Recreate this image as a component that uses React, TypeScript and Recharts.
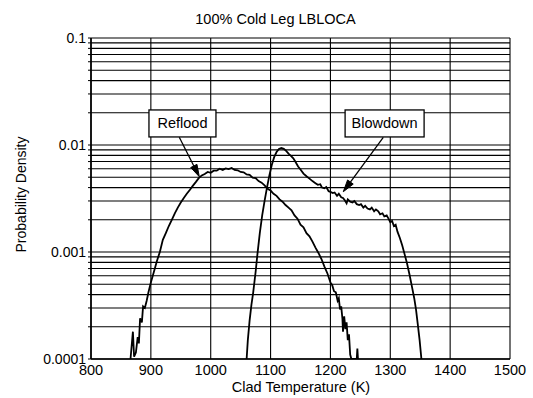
import React from 'react';
import {
  LineChart,
  Line,
  XAxis,
  YAxis,
  CartesianGrid,
  ReferenceDot,
  ReferenceLine,
  Customized,
} from 'recharts';

// ---------- data ----------
const refloodX = [
  866, 870, 872, 875, 878, 880, 882, 885, 887, 890, 893, 896, 900, 905, 910, 915, 920, 925, 930, 935,
  940, 945, 950, 955, 960, 965, 970, 975, 980, 985, 990, 995, 1000, 1005, 1010, 1015, 1020, 1025, 1030,
  1035, 1040, 1045, 1050, 1055, 1060, 1065, 1070, 1075, 1080, 1085, 1090, 1095, 1100, 1105, 1110, 1115,
  1120, 1125, 1130, 1135, 1140, 1145, 1150, 1155, 1160, 1165, 1170, 1175, 1180, 1185, 1190, 1195, 1200,
  1203, 1206, 1209, 1212, 1214, 1216, 1218, 1220, 1221, 1223, 1225, 1227, 1229, 1231, 1233, 1235, 1244,
  1245, 1246,
];
const refloodY = [
  1.0e-4, 1.8e-4, 1.05e-4, 1.15e-4, 1.6e-4, 1.4e-4, 2.4e-4, 2.2e-4, 3.1e-4, 3.0e-4, 3.5e-4, 4.2e-4,
  5.2e-4, 6.5e-4, 8.2e-4, 1.0e-3, 1.3e-3, 1.5e-3, 1.75e-3, 2.0e-3, 2.3e-3, 2.6e-3, 2.9e-3, 3.2e-3,
  3.5e-3, 3.8e-3, 4.15e-3, 4.5e-3, 4.9e-3, 5.2e-3, 5.35e-3, 5.6e-3, 5.5e-3, 5.75e-3, 5.75e-3, 6.0e-3,
  5.85e-3, 6.05e-3, 5.95e-3, 6.1e-3, 5.85e-3, 5.8e-3, 5.6e-3, 5.55e-3, 5.3e-3, 5.25e-3, 4.95e-3, 4.9e-3,
  4.6e-3, 4.45e-3, 4.2e-3, 3.9e-3, 3.75e-3, 3.5e-3, 3.35e-3, 3.1e-3, 2.95e-3, 2.75e-3, 2.6e-3, 2.45e-3,
  2.2e-3, 2.05e-3, 1.8e-3, 1.7e-3, 1.5e-3, 1.4e-3, 1.25e-3, 1.1e-3, 9.8e-4, 8.6e-4, 7.3e-4, 6.3e-4,
  5.2e-4, 4.9e-4, 4.3e-4, 4.2e-4, 3.5e-4, 3.7e-4, 2.9e-4, 3.1e-4, 2.4e-4, 1.8e-4, 2.5e-4, 1.9e-4,
  2.2e-4, 1.5e-4, 1.7e-4, 1.1e-4, 1.0e-4, 1.0e-4, 1.25e-4, 1.0e-4,
];

const blowdownX = [
  1060, 1062, 1065, 1068, 1071, 1075, 1078, 1082, 1086, 1090, 1094, 1098, 1102, 1106, 1110, 1114, 1118,
  1122, 1126, 1130, 1134, 1138, 1142, 1146, 1150, 1155, 1160, 1165, 1170, 1175, 1179, 1183, 1186, 1190,
  1193, 1197, 1200, 1204, 1207, 1211, 1214, 1218, 1221, 1224, 1227, 1229, 1233, 1237, 1240, 1244, 1248,
  1251, 1255, 1258, 1262, 1266, 1269, 1273, 1276, 1280, 1283, 1287, 1290, 1294, 1297, 1300, 1303, 1306,
  1309, 1312, 1316, 1320, 1324, 1328, 1332, 1336, 1340, 1343, 1346, 1349, 1352,
];
const blowdownY = [
  1.0e-4, 1.5e-4, 2.3e-4, 3.2e-4, 4.2e-4, 6.5e-4, 9.5e-4, 1.5e-3, 2.2e-3, 3.0e-3, 4.0e-3, 5.2e-3,
  6.5e-3, 7.7e-3, 8.6e-3, 9.2e-3, 9.4e-3, 9.2e-3, 8.8e-3, 8.3e-3, 7.9e-3, 7.5e-3, 6.9e-3, 6.3e-3,
  5.9e-3, 5.4e-3, 5.1e-3, 4.85e-3, 4.6e-3, 4.4e-3, 4.25e-3, 4.3e-3, 4.0e-3, 3.95e-3, 4.05e-3, 3.7e-3,
  3.65e-3, 3.55e-3, 3.6e-3, 3.35e-3, 3.5e-3, 3.25e-3, 3.2e-3, 3.05e-3, 2.85e-3, 3.1e-3, 2.95e-3,
  2.9e-3, 3.0e-3, 2.8e-3, 2.75e-3, 2.8e-3, 2.6e-3, 2.7e-3, 2.55e-3, 2.5e-3, 2.6e-3, 2.4e-3, 2.5e-3,
  2.4e-3, 2.25e-3, 2.3e-3, 2.15e-3, 2.2e-3, 2.05e-3, 1.9e-3, 1.95e-3, 1.75e-3, 1.8e-3, 1.55e-3,
  1.35e-3, 1.15e-3, 9.5e-4, 7.8e-4, 6.2e-4, 4.8e-4, 3.7e-4, 2.9e-4, 2.1e-4, 1.5e-4, 1.0e-4,
];

const xTicks = [800, 900, 1000, 1100, 1200, 1300, 1400, 1500];
const yTicks = [
  0.0001, 0.0002, 0.0003, 0.0004, 0.0005, 0.0006, 0.0007, 0.0008, 0.0009,
  0.001, 0.002, 0.003, 0.004, 0.005, 0.006, 0.007, 0.008, 0.009,
  0.01, 0.02, 0.03, 0.04, 0.05, 0.06, 0.07, 0.08, 0.09, 0.1,
];
const yMajorLabels = ['0.0001', '0.001', '0.01', '0.1'];
const yMajorValues = [0.0001, 0.001, 0.01, 0.1];

const titleText = '100% Cold Leg LBLOCA';
const xAxisTitle = 'Clad Temperature (K)';
const yAxisTitle = 'Probability Density';

// annotations (data coordinates)
const noteLabels = ['Reflood', 'Blowdown'];
const noteBoxX = [952.8, 1290.5];
const noteBoxY = [0.0159, 0.0159];
const noteFromX = [947.5, 1288.3];
const noteFromY = [0.0118, 0.0118];
const noteToX = [980.9, 1221.5];
const noteToY = [0.00506, 0.00366];

const refloodData = refloodX.map((x, i) => ({ x, y: refloodY[i] }));
const blowdownData = blowdownX.map((x, i) => ({ x, y: blowdownY[i] }));

const FONT = '"Liberation Sans", Arial, Helvetica, sans-serif';

const formatY = (v: number) => {
  const idx = yMajorValues.findIndex((m) => Math.abs(m - v) / m < 1e-6);
  return idx >= 0 ? yMajorLabels[idx] : '';
};

const boxWidths = [67, 79];

const makeBox = (i: number) => (props: any) => {
  const { cx, cy } = props;
  const w = boxWidths[i];
  const h = 27;
  return (
    <g>
      <rect x={cx - w / 2} y={cy - h / 2} width={w} height={h} fill="#fff" stroke="#000" strokeWidth={1.3} />
      <text
        x={cx}
        y={cy}
        textAnchor="middle"
        dominantBaseline="central"
        fontFamily={FONT}
        fontSize={14.5}
        fill="#000"
      >
        {noteLabels[i]}
      </text>
    </g>
  );
};

const arrowShape = (props: any) => {
  const { x1, y1, x2, y2 } = props;
  const dx = x2 - x1;
  const dy = y2 - y1;
  const len = Math.sqrt(dx * dx + dy * dy) || 1;
  const ux = dx / len;
  const uy = dy / len;
  const headLen = 12;
  const headW = 3.5;
  const bx = x2 - ux * headLen;
  const by = y2 - uy * headLen;
  const px = -uy * headW;
  const py = ux * headW;
  return (
    <g>
      <line x1={x1} y1={y1} x2={bx} y2={by} stroke="#000" strokeWidth={1.3} />
      <polygon points={`${x2},${y2} ${bx + px},${by + py} ${bx - px},${by - py}`} fill="#000" stroke="#000" />
    </g>
  );
};

const Texts = () => (
  <g>
    <text x={275.5} y={24} textAnchor="middle" fontFamily={FONT} fontSize={14.5} fill="#000">
      {titleText}
    </text>
    <text x={301} y={392} textAnchor="middle" fontFamily={FONT} fontSize={14.5} fill="#000">
      {xAxisTitle}
    </text>
    <text
      x={21}
      y={194.5}
      textAnchor="middle"
      dominantBaseline="central"
      transform="rotate(-90 21 194.5)"
      fontFamily={FONT}
      fontSize={14}
      fill="#000"
    >
      {yAxisTitle}
    </text>
  </g>
);

export default function App() {
  return (
    <div style={{ position: 'absolute', left: 0, top: 0, width: 533, height: 398, background: '#fff' }}>
      <LineChart width={533} height={398} margin={{ top: 38, right: 23, left: 0, bottom: 0 }}>
        <CartesianGrid stroke="#000" strokeWidth={1.1} />
        <XAxis
          type="number"
          dataKey="x"
          domain={[800, 1500]}
          ticks={xTicks}
          interval={0}
          height={39}
          tickLine={false}
          tickSize={3}
          tickMargin={3}
          axisLine={{ stroke: '#000', strokeWidth: 1.6 }}
          tick={{ fill: '#000', fontSize: 14.5, fontFamily: FONT }}
          allowDataOverflow
        />
        <YAxis
          type="number"
          scale="log"
          domain={[0.0001, 0.1]}
          ticks={yTicks}
          interval={0}
          width={91}
          tickFormatter={formatY}
          tickSize={3}
          tickMargin={2}
          tickLine={{ stroke: '#000' }}
          axisLine={{ stroke: '#000', strokeWidth: 1.6 }}
          tick={{ fill: '#000', fontSize: 14, fontFamily: FONT }}
          allowDataOverflow
        />
        <Line
          data={refloodData}
          dataKey="y"
          type="linear"
          stroke="#000"
          strokeWidth={1.8}
          dot={false}
          isAnimationActive={false}
        />
        <Line
          data={blowdownData}
          dataKey="y"
          type="linear"
          stroke="#000"
          strokeWidth={1.8}
          dot={false}
          isAnimationActive={false}
        />
        {noteLabels.map((_, i) => (
          <ReferenceLine
            key={'a' + i}
            segment={[
              { x: noteFromX[i], y: noteFromY[i] },
              { x: noteToX[i], y: noteToY[i] },
            ]}
            shape={arrowShape}
            ifOverflow="visible"
          />
        ))}
        {noteLabels.map((_, i) => (
          <ReferenceDot
            key={'b' + i}
            x={noteBoxX[i]}
            y={noteBoxY[i]}
            r={1}
            shape={makeBox(i)}
            ifOverflow="visible"
          />
        ))}
        <Customized component={Texts} />
      </LineChart>
    </div>
  );
}
